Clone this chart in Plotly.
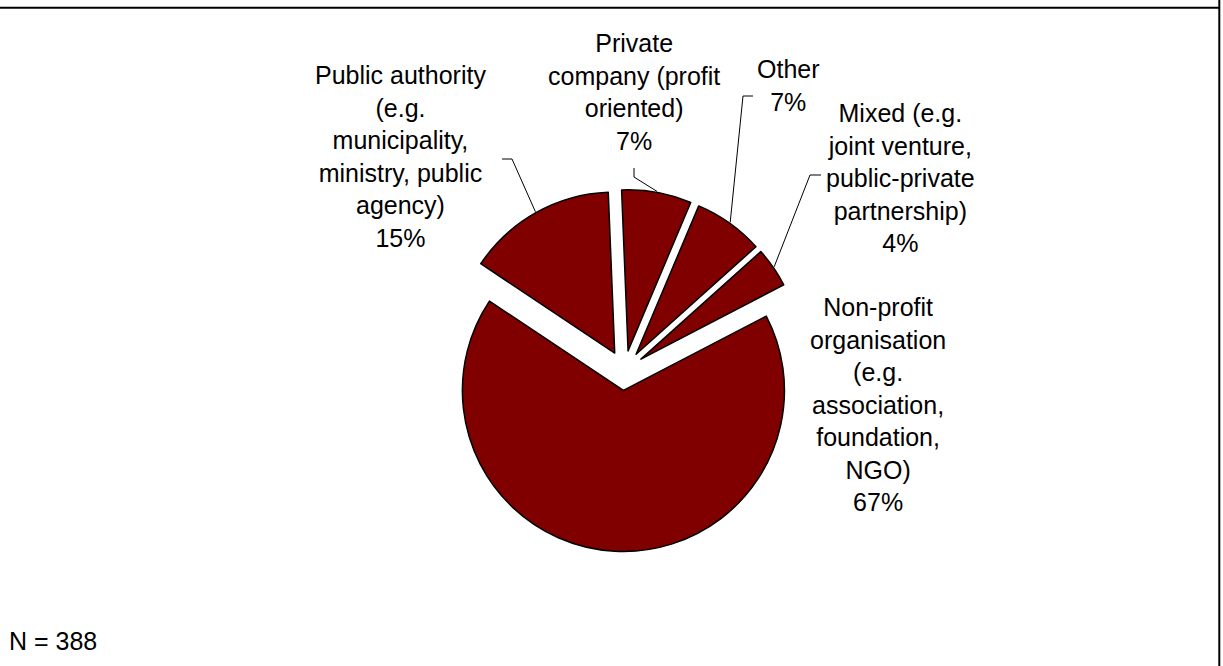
import math
import plotly.graph_objects as go

# Organisation type of respondents (share of N = 388)
categories = [
    "Private company (profit oriented)",
    "Other",
    "Mixed (e.g. joint venture, public-private partnership)",
    "Non-profit organisation (e.g. association, foundation, NGO)",
    "Public authority (e.g. municipality, ministry, public agency)",
]
shares = [7, 7, 4, 67, 15]
label_lines = [
    ["Private", "company (profit", "oriented)"],
    ["Other"],
    ["Mixed (e.g.", "joint venture,", "public-private", "partnership)"],
    ["Non-profit", "organisation", "(e.g.", "association,", "foundation,", "NGO)"],
    ["Public authority", "(e.g.", "municipality,", "ministry, public", "agency)"],
]
sample_note = "N = 388"

# ---- layout geometry (pixels) ----
W, H = 1223, 666
CX, CY = 624.5, 370.5      # pie centre
R_BOX = 181                # half size of the pie domain
PULL = 0.124               # explosion of every slice
ROTATION = -2.3            # start angle of first slice (deg, clockwise from 12 o'clock)
FONT = "Liberation Sans, Arial, sans-serif"
FS = 25
COLOR = "#800000"

def px(x):
    return x / W

def py(y):
    return 1 - y / H

r = R_BOX / (1 + PULL)
dom_x = [px(CX - R_BOX), px(CX + R_BOX)]
dom_y = [py(CY + R_BOX), py(CY - R_BOX)]

fig = go.Figure(go.Pie(
    labels=categories,
    values=shares,
    sort=False,
    direction="clockwise",
    rotation=ROTATION,
    pull=[PULL] * len(shares),
    marker=dict(colors=[COLOR] * len(shares), line=dict(color="black", width=1.5)),
    textinfo="none",
    hoverinfo="label+percent",
    showlegend=False,
    domain=dict(x=dom_x, y=dom_y),
))

# mid angle of each slice and the point on its (exploded) arc
total = sum(shares)
anchors = []
start = ROTATION
for v in shares:
    span = 360 * v / total
    mid = math.radians(start + span / 2)
    dx, dy = math.sin(mid), -math.cos(mid)
    ox, oy = CX + PULL * r * dx, CY + PULL * r * dy
    anchors.append((ox + (r + 1) * dx, oy + (r + 1) * dy))
    start += span

# label placement (centre of text block) and leader routing
label_pos = [(634, 92), (788, 86), (900, 178), (878, 404), (400, 157)]
leaders = {
    0: [(634, 168), (634, 177)],
    1: [(753, 96), (743, 96)],
    2: [(821, 175), (810, 175)],
    4: [(502, 159), (512, 159)],
}

for i, (lines, v) in enumerate(zip(label_lines, shares)):
    x, y = label_pos[i]
    fig.add_annotation(
        x=px(x), y=py(y), xref="paper", yref="paper",
        text="<br>".join(lines + [f"{v}%"]),
        showarrow=False, xanchor="center", yanchor="middle", align="center",
        font=dict(family=FONT, size=FS, color="black"),
    )

shapes = []
for i, pts in leaders.items():
    ax, ay = anchors[i]
    path = f"M {px(pts[0][0])},{py(pts[0][1])}"
    for (x, y) in pts[1:]:
        path += f" L {px(x)},{py(y)}"
    path += f" L {px(ax)},{py(ay)}"
    shapes.append(dict(type="path", path=path, xref="paper", yref="paper",
                       line=dict(color="black", width=1)))

# frame edges
shapes.append(dict(type="line", xref="paper", yref="paper",
                   x0=0, x1=px(1219.5), y0=py(7.8), y1=py(7.8),
                   line=dict(color="black", width=2)))
shapes.append(dict(type="line", xref="paper", yref="paper",
                   x0=px(1219.3), x1=px(1219.3), y0=0, y1=1,
                   line=dict(color="black", width=2)))

fig.add_annotation(
    x=px(7), y=py(641), xref="paper", yref="paper", text=sample_note,
    showarrow=False, xanchor="left", yanchor="middle",
    font=dict(family=FONT, size=FS, color="black"),
)

fig.update_layout(
    width=W, height=H,
    margin=dict(l=0, r=0, t=0, b=0),
    paper_bgcolor="white", plot_bgcolor="white",
    shapes=shapes,
)

fig.write_html("out.html")
